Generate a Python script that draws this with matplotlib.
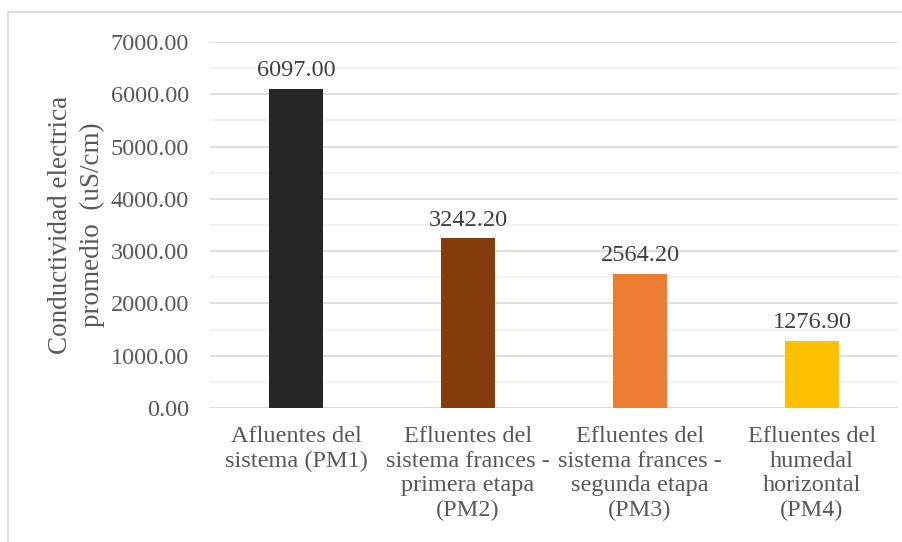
import matplotlib.pyplot as plt
from matplotlib.patches import Rectangle
from matplotlib.ticker import MultipleLocator

categorias = ['Afluentes del\nsistema (PM1)',
              'Efluentes del\nsistema frances -\nprimera etapa\n(PM2)',
              'Efluentes del\nsistema frances -\nsegunda etapa\n(PM3)',
              'Efluentes del\nhumedal\nhorizontal\n(PM4)']
valores = [6097.00, 3242.20, 2564.20, 1276.90]
colores = ['#262626', '#843C0C', '#ED7D31', '#FFC000']

plt.rcParams['font.family'] = ['Liberation Serif', 'DejaVu Serif']
gris = '#595959'

fig = plt.figure(figsize=(9.03, 5.42), dpi=100)
ax = fig.add_axes([210 / 903, 1 - 408 / 542, 688 / 903, 366 / 542])

# borde del grafico (recortado a la derecha y abajo)
fig.patches.append(Rectangle((8 / 903, -0.05), 1.1, 1 - 12 / 542 + 0.05,
                             transform=fig.transFigure, fill=False,
                             edgecolor='#D9D9D9', linewidth=1.2))

x = range(len(valores))
barras = ax.bar(x, valores, width=0.315, color=colores, zorder=3)
for b, v in zip(barras, valores):
    ax.text(b.get_x() + b.get_width() / 2, v + 150, f'{v:.2f}',
            ha='center', va='bottom', fontsize=17.5, color='#404040')

ax.set_xlim(-0.5, 3.5)
ax.set_ylim(0, 7000)
ax.yaxis.set_minor_locator(MultipleLocator(500))
ax.set_yticks(range(0, 7001, 1000))
ax.set_yticklabels([f'{t:.2f}' for t in range(0, 7001, 1000)])
ax.grid(axis='y', which='major', color='#D9D9D9', linewidth=1.2, zorder=0)
ax.grid(axis='y', which='minor', color='#F0F0F0', linewidth=1.2, zorder=0)
ax.set_xticks(list(x))
ax.set_xticklabels(categorias, linespacing=1.22)
ax.tick_params(axis='both', which='both', length=0, labelsize=17.5, colors=gris)
ax.tick_params(axis='y', pad=15)
ax.tick_params(axis='x', pad=13)
for s in ax.spines.values():
    s.set_visible(False)
ax.axhline(0, color='#D9D9D9', linewidth=1.2, zorder=2)

ax.set_ylabel('Conductividad electrica\npromedio  (uS/cm)', fontsize=19.5,
              color=gris, labelpad=4, linespacing=1.35)

fig.savefig('out.png', dpi=100)
